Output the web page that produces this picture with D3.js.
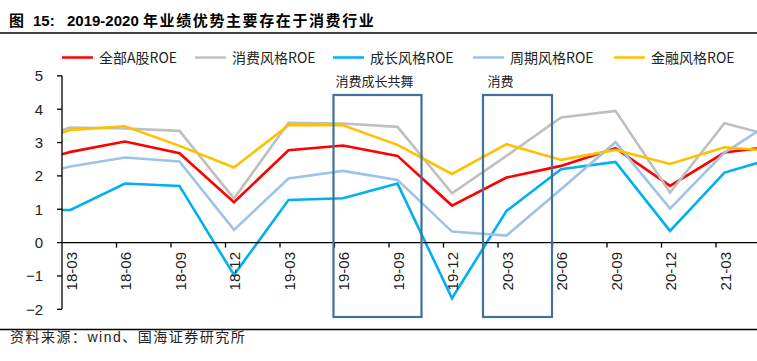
<!DOCTYPE html>
<html><head><meta charset="utf-8">
<script src="https://cdn.jsdelivr.net/npm/d3@7/dist/d3.min.js"></script>
<style>
body{margin:0;background:#fff;}
svg{display:block;}
</style></head>
<body>
<svg id="c" width="757" height="361"></svg>
<script>
// categories (first and last are partly cut off by the chart frame)
const categories = ["17-12","18-03","18-06","18-09","18-12","19-03","19-06","19-09","19-12","20-03","20-06","20-09","20-12","21-03","21-06"];
const hiddenCats = ["17-12","21-06"];
const allA    = [2.27, 2.72, 3.03, 2.68, 1.21, 2.77, 2.91, 2.60, 1.11, 1.95, 2.30, 2.83, 1.70, 2.70, 2.91];
const consume = [2.94, 3.45, 3.42, 3.35, 1.32, 3.59, 3.57, 3.47, 1.48, 2.60, 3.75, 3.95, 1.50, 3.58, 3.15];
const growth  = [0.97, 0.98, 1.77, 1.70, -0.97, 1.28, 1.33, 1.77, -1.67, 0.95, 2.20, 2.42, 0.35, 2.10, 2.57];
const cycle   = [1.90, 2.28, 2.55, 2.43, 0.38, 1.92, 2.15, 1.88, 0.33, 0.21, 1.60, 3.01, 1.02, 2.70, 3.75];
const finance = [2.80, 3.38, 3.49, 2.90, 2.25, 3.52, 3.52, 2.93, 2.06, 2.95, 2.48, 2.78, 2.36, 2.86, 2.73];
const seriesNames = ["全部A股ROE","消费风格ROE","成长风格ROE","周期风格ROE","金融风格ROE"];
const seriesColors = ["#FF0000","#BFBFBF","#00B0F0","#9DC3E6","#FFC000"];
const yTicks = [5,4,3,2,1,0,-1,-2];
const boxes = [
  {label:"消费成长共舞", from:"19-06", to:"19-09"},
  {label:"消费", from:"20-03", to:"20-03"}
];
const titleParts = ["图", "15:", "2019-2020", "年业绩优势主要存在于消费行业"];
const sourceText = "资料来源：wind、国海证券研究所";

const seriesData = [allA, consume, growth, cycle, finance];

const svg = d3.select("#c");
const W = 757, H = 361;
const plotLeft = 62, plotRight = 757;

const x = d3.scalePoint().domain(categories).range([16, 779]);
const y = d3.scaleLinear().domain([-2, 5]).range([309.3, 75.85]);

// title
const title = svg.append("text").attr("y", 26)
  .attr("font-family", "'Liberation Sans','Noto Sans CJK SC',sans-serif")
  .attr("font-weight", "bold").attr("font-size", 15).attr("fill", "#000");
const titleX = [9, 33, 67, 143];
titleParts.forEach((p, i) => {
  title.append("tspan").attr("x", titleX[i])
    .attr("letter-spacing", i === 3 ? 1.6 : 0)
    .text(p + (i < 3 ? " " : ""));
});
svg.append("line").attr("x1", 0).attr("x2", W).attr("y1", 33).attr("y2", 33)
  .attr("stroke", "#000").attr("stroke-width", 1.5);

// legend
const legX = [62, 195, 333, 473, 614];
const leg = svg.append("g");
seriesNames.forEach((n, i) => {
  leg.append("line").attr("x1", legX[i]).attr("x2", legX[i] + 31)
    .attr("y1", 57.5).attr("y2", 57.5)
    .attr("stroke", seriesColors[i]).attr("stroke-width", 2.5);
  leg.append("text").attr("x", legX[i] + 37).attr("y", 62.5)
    .attr("font-family", "'Liberation Sans Narrow','Noto Sans CJK SC',sans-serif")
    .attr("font-size", 14).attr("fill", "#222")
    .text(n);
});

// clip
svg.append("clipPath").attr("id", "pc").append("rect")
  .attr("x", plotLeft).attr("y", 40).attr("width", plotRight - plotLeft).attr("height", 300);

// lines
const line = d3.line().x((d, i) => x(categories[i])).y(d => y(d));
const lg = svg.append("g").attr("clip-path", "url(#pc)");
seriesData.forEach((s, i) => {
  lg.append("path").attr("d", line(s)).attr("fill", "none")
    .attr("stroke", seriesColors[i]).attr("stroke-width", 2.6)
    .attr("stroke-linejoin", "miter");
});

// axes
const axG = svg.append("g").attr("font-family", "'Liberation Sans',Arial,sans-serif");
axG.append("line").attr("x1", plotLeft).attr("x2", plotLeft).attr("y1", y(5)).attr("y2", y(-2))
  .attr("stroke", "#000").attr("stroke-width", 1.3);
yTicks.forEach(t => {
  axG.append("line").attr("x1", plotLeft - 5).attr("x2", plotLeft).attr("y1", y(t)).attr("y2", y(t))
    .attr("stroke", "#000").attr("stroke-width", 1.3);
  axG.append("text").attr("x", 43).attr("y", y(t)).attr("dy", "0.36em")
    .attr("text-anchor", "end").attr("font-size", 15).attr("fill", "#222")
    .text(t < 0 ? "\u2212" + Math.abs(t) : t);
});
axG.append("line").attr("x1", plotLeft).attr("x2", plotRight).attr("y1", y(0)).attr("y2", y(0))
  .attr("stroke", "#000").attr("stroke-width", 1.3);
categories.filter(c => !hiddenCats.includes(c)).forEach(c => {
  const px = x(c);
  const tx = px - 8.5;
  if (tx > plotLeft + 2) {
    axG.append("line").attr("x1", tx).attr("x2", tx).attr("y1", y(0)).attr("y2", y(0) + 5)
      .attr("stroke", "#000").attr("stroke-width", 1.3);
  }
  axG.append("text")
    .attr("transform", `translate(${px + 1},${252}) rotate(-90)`)
    .attr("text-anchor", "end").attr("dy", "0.36em")
    .attr("font-size", 15).attr("fill", "#222")
    .text(c);
});

// annotation boxes
boxes.forEach((b, i) => {
  const x0 = i === 0 ? x(b.from) - 9.5 : x(b.from) - 23.5;
  const x1 = i === 0 ? x(b.to) + 24 : x(b.to) + 45.5;
  svg.append("rect").attr("x", x0).attr("y", 95).attr("width", x1 - x0).attr("height", 222)
    .attr("fill", "none").attr("stroke", "#41719C").attr("stroke-width", 2.2);
  svg.append("text").attr("x", (x0 + x1) / 2 + (i === 1 ? -17 : -3)).attr("y", 86)
    .attr("text-anchor", "middle")
    .attr("font-family", "'Noto Sans CJK SC',sans-serif")
    .attr("font-size", 13).attr("fill", "#222")
    .text(b.label);
});

// footer
svg.append("line").attr("x1", 0).attr("x2", W).attr("y1", 329.5).attr("y2", 329.5)
  .attr("stroke", "#000").attr("stroke-width", 1.3);
svg.append("text").attr("x", 10).attr("y", 342)
  .attr("font-family", "'Liberation Sans','Noto Sans CJK SC',sans-serif")
  .attr("font-size", 14).attr("letter-spacing", 1.5).attr("fill", "#222")
  .text(sourceText);
</script>
</body></html>
